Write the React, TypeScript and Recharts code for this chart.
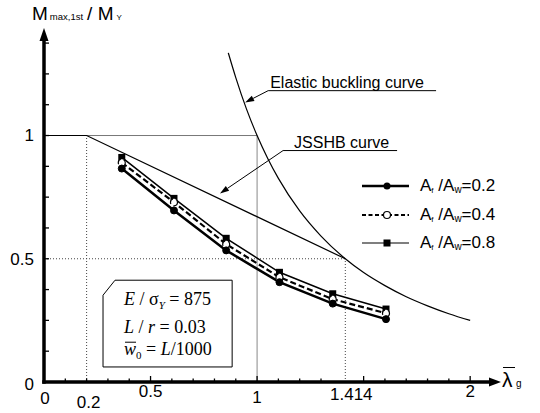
import React from 'react';
import {
  LineChart, Line, XAxis, YAxis, ReferenceLine, ReferenceArea,
} from 'recharts';

const X_MAX = 2.14;
const Y_MAX = 1.42;

// girder slenderness and first-yield moment ratio for each flange/web area ratio
const lambdaG = [0.365, 0.61, 0.855, 1.105, 1.355, 1.605];
const mAf02 = [0.866, 0.696, 0.534, 0.405, 0.318, 0.255];
const mAf04 = [0.89, 0.729, 0.559, 0.425, 0.336, 0.279];
const mAf08 = [0.911, 0.745, 0.583, 0.445, 0.358, 0.296];

// curves
const elasticLambda = [0.865, 0.9, 0.95, 1.0, 1.05, 1.1, 1.2, 1.3, 1.414, 1.5, 1.6, 1.7, 1.8, 1.9, 2.0];
const elasticM = [1.335, 1.235, 1.108, 1.0, 0.907, 0.826, 0.694, 0.592, 0.5, 0.444, 0.391, 0.346, 0.309, 0.277, 0.25];
const jsshbLambda = [0, 0.2, 1.414];
const jsshbM = [1, 1, 0.5];

const xTicks = [0, 0.1, 0.2, 0.3, 0.4, 0.5, 0.6, 0.7, 0.8, 0.9, 1, 1.1, 1.2, 1.3, 1.414, 1.5, 1.6, 1.7, 1.8, 1.9, 2];
const xLabels = [0, 0.2, 0.5, 1, 1.414, 2];
const yTicks = [0, 0.125, 0.25, 0.375, 0.5, 0.625, 0.75, 0.875, 1, 1.125, 1.25, 1.375];
const yLabels = [0, 0.5, 1];
const ratioLabels = ['0.2', '0.4', '0.8'];

const toPoints = (xs: number[], ys: number[]) => xs.map((x, i) => ({ x, y: ys[i] }));

const SANS = '"Liberation Sans", Arial, sans-serif';
const SERIF = '"Liberation Serif", "Times New Roman", serif';
const AXIS_W = 3.5;

// label nudges (the original labels are hand placed)
const xLabelShift: Record<string, [number, number]> = {
  '0': [1, 22], '0.2': [2, 26], '0.5': [0, 15], '1': [0, 21], '1.414': [6, 18], '2': [0, 15],
};
const yLabelShift: Record<string, number> = { '0': 8, '0.5': 6, '1': 5 };

function XTick(props: any) {
  const { x, y, payload } = props;
  const v = payload.value as number;
  const major = Math.abs(v * 2 - Math.round(v * 2)) < 1e-6;
  const showLine = v !== 0 && v !== 1.414;
  const key = String(v);
  const shift = xLabelShift[key];
  return (
    <g>
      {showLine && <line x1={x} x2={x} y1={y} y2={y - (major ? 6 : 3.5)} stroke="#000" strokeWidth={1.3} />}
      {xLabels.includes(v) && (
        <text x={x + shift[0]} y={y + shift[1]} textAnchor="middle" fontSize={17} fontFamily={SANS} fill="#000">
          {key}
        </text>
      )}
    </g>
  );
}

function YTick(props: any) {
  const { x, y, payload } = props;
  const v = payload.value as number;
  const key = String(v);
  return (
    <g>
      {v !== 0 && <line x1={x} x2={x + 5} y1={y} y2={y} stroke="#000" strokeWidth={1.3} />}
      {yLabels.includes(v) && (
        <text x={x - 10} y={y + yLabelShift[key]} textAnchor="end" fontSize={17} fontFamily={SANS} fill="#000">
          {key}
        </text>
      )}
    </g>
  );
}

// heavy axis lines with arrow heads, drawn from the axis viewBox (not clipped to the plot)
function xAxisArrow(p: any) {
  const { x, y, width } = p.viewBox;
  const end = x + width;
  return (
    <g>
      <line x1={x - AXIS_W / 2} x2={end - 8} y1={y} y2={y} stroke="#000" strokeWidth={AXIS_W} />
      <polygon points={`${end + 1},${y} ${end - 11},${y - 4.5} ${end - 11},${y + 4.5}`} fill="#000" />
    </g>
  );
}

function yAxisArrow(p: any) {
  const { x, y, width, height } = p.viewBox;
  const ax = x + width;
  return (
    <g>
      <line x1={ax} x2={ax} y1={y + height + AXIS_W / 2} y2={y + 6} stroke="#000" strokeWidth={AXIS_W} />
      <polygon points={`${ax},${y - 4} ${ax - 4.5},${y + 9} ${ax + 4.5},${y + 9}`} fill="#000" />
    </g>
  );
}

function arrowShape(p: any) {
  const { x1, y1, x2, y2 } = p;
  const a = Math.atan2(y2 - y1, x2 - x1);
  const len = 9;
  const w = 3;
  const bx = x2 - len * Math.cos(a);
  const by = y2 - len * Math.sin(a);
  const pts = `${x2},${y2} ${bx - w * Math.sin(a)},${by + w * Math.cos(a)} ${bx + w * Math.sin(a)},${by - w * Math.cos(a)}`;
  return (
    <g>
      <line x1={x1} y1={y1} x2={bx} y2={by} stroke="#000" strokeWidth={1} />
      <polygon points={pts} fill="#000" />
    </g>
  );
}

const underlined = (label: string, dx: number) => (p: any) => (
  <g>
    <line x1={p.x1} y1={p.y1} x2={p.x2} y2={p.y2} stroke="#000" strokeWidth={1} />
    <text x={p.x1 + dx} y={p.y1 - 3} fontSize={16} fontFamily={SANS} fill="#000">{label}</text>
  </g>
);

function paramBox(p: any) {
  const { x, y, width, height } = p;
  const pts = `${x},${y + 15} ${x + 12},${y} ${x + width},${y} ${x + width},${y + height} ${x},${y + height}`;
  const tx = x + 21;
  return (
    <g fontFamily={SERIF} fontSize={18} fill="#000">
      <polygon points={pts} fill="#fff" stroke="#000" strokeWidth={1} />
      <text x={tx} y={y + 25}>
        <tspan fontStyle="italic">E</tspan> / σ
        <tspan fontStyle="italic" fontSize={11} dy={4}>Y</tspan>
        <tspan dy={-4}> = 875</tspan>
      </text>
      <text x={tx} y={y + 53}>
        <tspan fontStyle="italic">L</tspan> / <tspan fontStyle="italic">r</tspan> = 0.03
      </text>
      <line x1={tx + 1} x2={tx + 12} y1={y + 62} y2={y + 62} stroke="#000" strokeWidth={1} />
      <text x={tx} y={y + 75}>
        <tspan fontStyle="italic">w</tspan>
        <tspan fontSize={11} dy={4}>0</tspan>
        <tspan dy={-4}> = </tspan>
        <tspan fontStyle="italic">L</tspan>/1000
      </text>
    </g>
  );
}

function squareDot(p: any) {
  return <rect key={`sq-${p.index}`} x={p.cx - 3.5} y={p.cy - 3.5} width={7} height={7} fill="#000" />;
}

const legendRows = [
  { dash: undefined, width: 2.5, marker: 'filled' },
  { dash: '4 2.5', width: 2, marker: 'open' },
  { dash: undefined, width: 1.2, marker: 'square' },
];

function LegendBox() {
  return (
    <div style={{ position: 'absolute', left: 361, top: 172, fontFamily: SANS, fontSize: 17 }}>
      {legendRows.map((r, i) => (
        <div key={i} style={{ display: 'flex', alignItems: 'center', height: 28.5 }}>
          <svg width={50} height={16} style={{ marginRight: 9 }}>
            <line x1={1} x2={48} y1={8} y2={8} stroke="#000" strokeWidth={r.width} strokeDasharray={r.dash} />
            {r.marker === 'filled' && <circle cx={26} cy={8} r={3.5} fill="#000" />}
            {r.marker === 'open' && <circle cx={26} cy={8} r={3.5} fill="#fff" stroke="#000" strokeWidth={1.2} />}
            {r.marker === 'square' && <rect x={22.5} y={4.5} width={7} height={7} fill="#000" />}
          </svg>
          <span>
            A<sub style={{ fontSize: 8, verticalAlign: -2 }}>f</sub> /A
            <sub style={{ fontSize: 10, verticalAlign: -2 }}>w</sub>=0.{ratioLabels[i].slice(2)}
          </span>
        </div>
      ))}
    </div>
  );
}

export default function App() {
  return (
    <div style={{ position: 'relative', width: 540, height: 413, background: '#fff' }}>
      <style>{'body{margin:0}'}</style>
      <LineChart width={540} height={413} margin={{ top: 32, right: 40, bottom: 0, left: 0 }}>
        <XAxis
          type="number" dataKey="x" domain={[0, X_MAX]} ticks={xTicks} interval={0}
          height={31} tickSize={0} tickMargin={0} tick={XTick} axisLine={false}
          label={{ content: xAxisArrow }}
        />
        <YAxis
          type="number" dataKey="y" domain={[0, Y_MAX]} ticks={yTicks} interval={0}
          width={44} tickSize={0} tickMargin={0} tick={YTick} axisLine={false}
          label={{ content: yAxisArrow }}
        />

        <ReferenceLine segment={[{ x: 0.2, y: 1 }, { x: 1, y: 1 }]} stroke="#777" strokeWidth={1} />
        <ReferenceLine segment={[{ x: 1, y: 0 }, { x: 1, y: 1 }]} stroke="#888" strokeWidth={1} />
        <ReferenceLine segment={[{ x: 0.2, y: 0 }, { x: 0.2, y: 1 }]} stroke="#444" strokeDasharray="1 2" />
        <ReferenceLine segment={[{ x: 0, y: 0.5 }, { x: 1.414, y: 0.5 }]} stroke="#444" strokeDasharray="1 2" />
        <ReferenceLine segment={[{ x: 1.414, y: 0 }, { x: 1.414, y: 0.5 }]} stroke="#444" strokeDasharray="1 2" />

        <ReferenceLine segment={[{ x: 1.052, y: 1.182 }, { x: 1.84, y: 1.182 }]} shape={underlined('Elastic buckling curve', 2)} />
        <ReferenceLine segment={[{ x: 1.052, y: 1.182 }, { x: 0.944, y: 1.134 }]} shape={arrowShape} />
        <ReferenceLine segment={[{ x: 1.122, y: 0.939 }, { x: 1.657, y: 0.939 }]} shape={underlined('JSSHB curve', 11)} />
        <ReferenceLine segment={[{ x: 1.122, y: 0.939 }, { x: 0.826, y: 0.765 }]} shape={arrowShape} />

        <ReferenceArea x1={0.277} x2={0.883} y1={0.061} y2={0.413} shape={paramBox} ifOverflow="visible" />

        <Line data={toPoints(elasticLambda, elasticM)} dataKey="y" type="monotone" stroke="#000" strokeWidth={1.2} dot={false} isAnimationActive={false} />
        <Line data={toPoints(jsshbLambda, jsshbM)} dataKey="y" type="linear" stroke="#000" strokeWidth={1.2} dot={false} isAnimationActive={false} />

        <Line data={toPoints(lambdaG, mAf08)} dataKey="y" type="linear" stroke="#000" strokeWidth={1.5} dot={squareDot} isAnimationActive={false} />
        <Line data={toPoints(lambdaG, mAf04)} dataKey="y" type="linear" stroke="#000" strokeWidth={2.2} strokeDasharray="6 3" dot={{ r: 3.5, fill: '#fff', stroke: '#000', strokeWidth: 1.2 }} isAnimationActive={false} />
        <Line data={toPoints(lambdaG, mAf02)} dataKey="y" type="linear" stroke="#000" strokeWidth={2.5} dot={{ r: 3.5, fill: '#000', stroke: '#000', strokeWidth: 1 }} isAnimationActive={false} />
      </LineChart>

      <div style={{ position: 'absolute', left: 32, top: 3, fontFamily: SANS, whiteSpace: 'nowrap', lineHeight: '22px' }}>
        <span style={{ fontSize: 19 }}>M</span>
        <span style={{ fontSize: 9.5, marginLeft: 2 }}>max,1st</span>
        <span style={{ fontSize: 19, marginLeft: 4 }}>/ M</span>
        <span style={{ fontSize: 8, marginLeft: 3 }}>Y</span>
      </div>

      <div style={{ position: 'absolute', left: 503, top: 367, width: 12, borderTop: '1.5px solid #000' }} />
      <div style={{ position: 'absolute', left: 502, top: 368, fontFamily: SANS, fontSize: 21, lineHeight: '24px' }}>λ</div>
      <div style={{ position: 'absolute', left: 516, top: 378, fontFamily: SANS, fontSize: 10, lineHeight: '12px' }}>g</div>

      <LegendBox />
    </div>
  );
}
